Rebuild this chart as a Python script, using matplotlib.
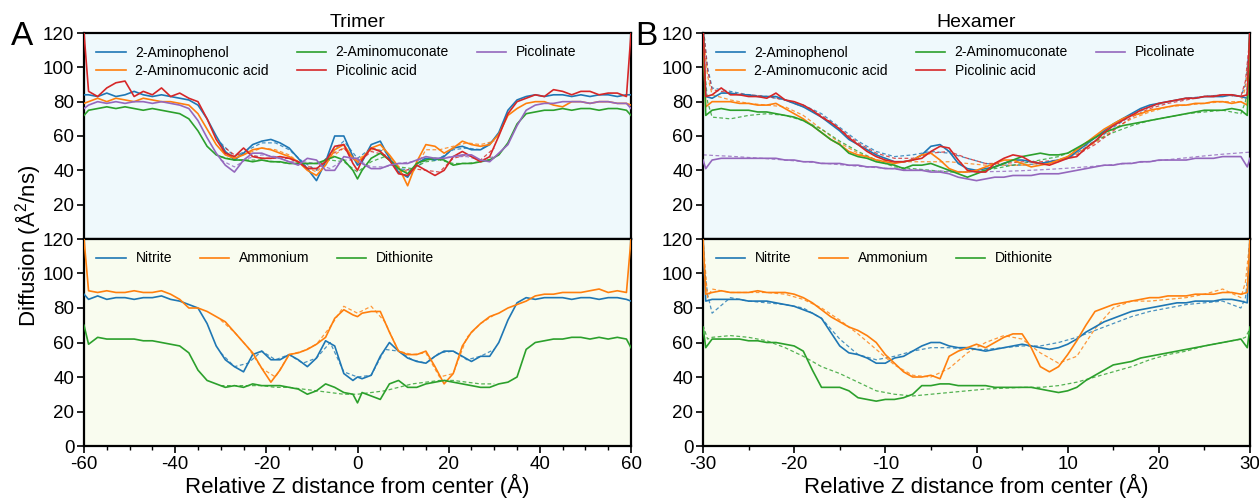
import matplotlib
matplotlib.use('Agg')
import matplotlib.pyplot as plt
from matplotlib.ticker import MultipleLocator, FixedLocator

plt.rcParams['font.family'] = ['Liberation Sans', 'DejaVu Sans']
plt.rcParams['mathtext.fontset'] = 'custom'
plt.rcParams['mathtext.rm'] = 'Liberation Sans'
plt.rcParams['mathtext.it'] = 'Liberation Sans:italic'
plt.rcParams['mathtext.default'] = 'regular'
plt.rcParams['axes.unicode_minus'] = False

# ---------------- data ----------------
TOP_LABELS = ['2-Aminophenol', '2-Aminomuconic acid', '2-Aminomuconate',
              'Picolinic acid', 'Picolinate']
BOT_LABELS = ['Nitrite', 'Ammonium', 'Dithionite']
COLORS = ['#1f77b4', '#ff7f0e', '#2ca02c', '#d62728', '#9467bd']

# Trimer x grid (A)
XL = [-60] + list(range(-59, 0, 2)) + [0] + list(range(1, 60, 2)) + [60]
# Hexamer x grid (A)
XR = [-30, -29.7] + list(range(-29, 30)) + [29.7, 30]
# fitted (dashed) curves x grids
XF_L = list(range(-30, 31, 3))
XF_R = [-30, -29.5] + list(range(-29, 30, 2)) + [29.5, 30]

# ---- Trimer, top (organics)
TL_BLUE = [84,
           84, 83, 85, 83, 84, 86, 84, 83, 84, 83, 82, 81, 78, 70, 60, 51, 46, 50, 55, 57,
           58, 56, 53, 47, 41, 34, 45, 60, 60, 48,
           43,
           45, 55, 57, 47, 39, 36, 44, 47, 46, 48, 53, 54, 52, 52, 55, 62, 75, 81, 83, 84,
           83, 84, 84, 83, 84, 83, 84, 84, 83, 84,
           84]
TL_ORANGE = [79,
             80, 82, 80, 82, 81, 80, 82, 81, 80, 80, 79, 78, 73, 64, 55, 49, 47, 49, 52, 53,
             52, 50, 48, 45, 40, 37, 43, 52, 55, 47,
             45,
             47, 53, 55, 49, 42, 31, 45, 55, 54, 50, 53, 57, 55, 54, 55, 61, 72, 76, 79, 80,
             80, 78, 77, 80, 80, 79, 80, 80, 79, 79,
             78]
TL_GREEN = [72,
            75, 76, 77, 76, 77, 76, 75, 76, 75, 74, 73, 70, 63, 54, 49, 47, 46, 46, 45, 46,
            45, 45, 44, 44, 44, 44, 46, 48, 46, 40,
            35,
            40, 47, 50, 46, 41, 38, 44, 46, 47, 46, 43, 44, 44, 45, 46, 49, 56, 67, 73, 74,
            75, 75, 76, 75, 76, 76, 75, 76, 76, 75,
            72]
TL_RED = [120,
          86, 83, 88, 91, 92, 83, 86, 84, 88, 83, 85, 82, 80, 70, 58, 50, 48, 53, 48, 47,
          47, 48, 47, 45, 41, 41, 45, 54, 55, 44,
          40,
          46, 53, 51, 46, 38, 37, 43, 40, 37, 40, 48, 51, 48, 45, 48, 60, 73, 80, 82, 84,
          83, 87, 86, 84, 86, 86, 84, 85, 85, 83,
          120]
TL_PURPLE = [76,
             78, 80, 79, 80, 79, 80, 80, 79, 80, 79, 78, 76, 69, 59, 50, 43, 39, 46, 50, 50,
             48, 47, 45, 43, 47, 46, 40, 40, 48, 47,
             47,
             44, 41, 41, 43, 44, 44, 46, 48, 47, 47, 48, 49, 49, 46, 45, 50, 55, 66, 75, 78,
             79, 79, 80, 80, 80, 79, 80, 80, 79, 79,
             76]
TLF_BLUE = [56, 48, 52, 56, 56, 52, 45, 40, 50, 57, 47, 53, 51, 41, 40, 46, 47, 52, 53, 52, 58]
TLF_ORANGE = [52, 48, 50, 53, 52, 49, 43, 39, 47, 53, 46, 52, 52, 41, 38, 52, 52, 54, 56, 55, 57]
TLF_GREEN = [48, 46, 46, 46, 45, 44, 44, 44, 46, 45, 39, 45, 48, 42, 41, 45, 46, 44, 44, 45, 47]
TLF_RED = [55, 49, 50, 47, 47, 47, 43, 41, 49, 53, 44, 51, 49, 39, 41, 40, 39, 47, 49, 46, 53]
TLF_PURPLE = [46, 42, 47, 49, 48, 45, 45, 44, 41, 46, 46, 42, 42, 44, 45, 47, 47, 48, 48, 46, 48]

# ---- Trimer, bottom (ions)
BL_BLUE = [88,
           85, 87, 85, 86, 86, 85, 86, 86, 87, 85, 84, 82, 80, 71, 58, 50, 46, 43, 53, 55,
           50, 50, 53, 50, 46, 51, 61, 58, 42, 38,
           40,
           39, 41, 52, 60, 55, 51, 49, 48, 52, 55, 55, 52, 49, 52, 52, 60, 73, 83, 86, 85,
           86, 86, 86, 85, 86, 86, 85, 86, 86, 85,
           84]
BL_ORANGE = [120,
             90, 89, 90, 89, 89, 90, 89, 89, 90, 88, 85, 80, 80, 78, 75, 72, 66, 60, 54, 45,
             37, 44, 53, 54, 56, 59, 63, 74, 79, 76,
             75,
             77, 78, 78, 66, 55, 53, 53, 55, 46, 36, 42, 58, 66, 71, 75, 77, 80, 82, 84, 87,
             88, 88, 89, 89, 89, 90, 91, 89, 90, 89,
             120]
BL_GREEN = [70,
            59, 63, 62, 62, 62, 62, 61, 61, 60, 59, 58, 54, 44, 38, 36, 34, 35, 34, 36, 35,
            35, 35, 34, 33, 30, 32, 36, 34, 31, 30,
            25,
            31, 29, 27, 36, 38, 34, 34, 36, 37, 38, 37, 36, 35, 34, 34, 36, 37, 40, 56, 60,
            61, 62, 62, 63, 63, 62, 63, 62, 63, 62,
            57]
BLF_BLUE = [54, 46, 48, 55, 50, 53, 48, 51, 60, 43, 40, 41, 56, 55, 50, 48, 54, 55, 50, 52, 56]
BLF_ORANGE = [73, 66, 57, 45, 40, 53, 55, 59, 69, 81, 77, 81, 72, 55, 53, 54, 40, 42, 63, 71, 76]
BLF_GREEN = [35, 35, 35, 35, 34, 34, 33, 32, 31, 30, 30, 31, 32, 34, 36, 37, 38, 38, 37, 36, 36]

# ---- Hexamer, top (organics)
TR_BLUE = [125, 83,
           82, 85, 85, 84, 84, 83, 83, 83, 81, 79,
           77, 74, 71, 67, 63, 58, 55, 52, 49, 47,
           45, 45, 46, 49, 54, 55, 51, 44, 41, 40,
           41, 42, 44, 46, 46, 45, 44, 45, 46, 47,
           51, 55, 59, 63, 67, 70, 73, 76, 78, 79,
           80, 81, 82, 82, 83, 83, 83, 84, 83,
           82, 125]
TR_ORANGE = [120, 77,
             80, 80, 80, 79, 79, 78, 78, 79, 76, 73,
             70, 66, 62, 58, 55, 51, 49, 48, 46, 45,
             44, 45, 46, 49, 50, 46, 41, 39, 39, 40,
             42, 44, 46, 46, 44, 42, 43, 44, 46, 48,
             52, 56, 60, 64, 67, 70, 72, 73, 75, 76,
             77, 78, 78, 79, 79, 80, 80, 79, 80,
             78, 120]
TR_GREEN = [125, 72,
            75, 76, 75, 75, 75, 74, 74, 73, 72, 71,
            69, 66, 62, 58, 55, 50, 48, 47, 45, 44,
            43, 41, 43, 43, 44, 42, 40, 38, 36, 38,
            40, 42, 44, 46, 48, 49, 50, 49, 49, 50,
            53, 56, 59, 62, 64, 66, 67, 68, 69, 70,
            71, 72, 73, 74, 75, 75, 75, 76, 75,
            72, 125]
TR_RED = [125, 83,
          84, 88, 84, 84, 83, 83, 82, 85, 81, 80,
          78, 75, 71, 68, 64, 59, 55, 51, 48, 46,
          45, 45, 46, 47, 51, 54, 53, 46, 40, 39,
          39, 44, 47, 49, 48, 45, 44, 43, 45, 47,
          48, 53, 57, 62, 66, 69, 72, 75, 77, 79,
          80, 81, 82, 82, 83, 83, 84, 84, 83,
          84, 125]
TR_PURPLE = [46, 41,
             46, 47, 47, 47, 47, 47, 47, 47, 46, 46,
             45, 45, 44, 44, 44, 43, 43, 42, 42, 41,
             41, 40, 40, 40, 39, 39, 38, 36, 35, 34,
             35, 36, 36, 37, 37, 37, 38, 38, 38, 39,
             40, 41, 42, 43, 43, 44, 44, 45, 45, 46,
             46, 46, 46, 47, 47, 47, 48, 48, 48,
             42, 47]
TRF_BLUE = [125, 100,
            88, 86, 84, 83, 81, 78, 73, 65, 57, 51,
            48, 49, 51, 50, 47, 44, 43, 43, 44, 46,
            50, 57, 65, 72, 77, 80, 82, 83, 84, 83,
            90, 115]
TRF_ORANGE = [120, 95,
              84, 81, 79, 78, 77, 72, 64, 56, 50, 46,
              45, 45, 45, 45, 44, 43, 43, 43, 44, 45,
              50, 56, 64, 70, 74, 77, 78, 79, 80, 80,
              88, 110]
TRF_GREEN = [110, 80,
             71, 70, 72, 73, 72, 69, 64, 57, 51, 46,
             42, 41, 40, 39, 39, 40, 42, 44, 46, 48,
             52, 57, 62, 66, 69, 71, 73, 74, 75, 73,
             80, 100]
TRF_RED = [125, 98,
           87, 85, 84, 83, 81, 77, 72, 64, 56, 50,
           47, 47, 50, 51, 47, 44, 44, 45, 45, 46,
           49, 55, 63, 71, 76, 79, 81, 83, 84, 83,
           92, 118]
TRF_PURPLE = [49.0, 48.9,
              48.7, 48.2, 47.5, 46.8, 46.0, 45.1, 44.2, 43.3, 42.4, 41.6,
              40.9, 40.3, 39.8, 39.4, 39.2, 39.2, 39.4, 39.8, 40.3, 40.9,
              41.6, 42.4, 43.3, 44.2, 45.2, 46.2, 47.3, 48.4, 49.4, 50.2,
              50.4, 50.6]

# ---- Hexamer, bottom (ions)
BR_BLUE = [120, 84,
           85, 85, 85, 85, 84, 84, 84, 83, 82, 81,
           79, 77, 74, 66, 58, 54, 53, 51, 48, 48,
           51, 52, 55, 58, 60, 60, 58, 57, 57, 56,
           55, 56, 57, 58, 59, 58, 57, 56, 57, 59,
           62, 66, 69, 72, 74, 76, 78, 79, 80, 81,
           82, 83, 83, 84, 84, 84, 85, 85, 84,
           83, 120]
BR_ORANGE = [120, 88,
             89, 90, 89, 89, 89, 90, 89, 89, 89, 88,
             86, 83, 79, 75, 72, 69, 67, 64, 60, 53,
             48, 43, 40, 40, 41, 39, 52, 55, 57, 59,
             57, 60, 63, 65, 65, 57, 46, 43, 46, 53,
             61, 70, 78, 80, 82, 83, 84, 85, 86, 86,
             87, 87, 87, 88, 88, 88, 89, 89, 88,
             89, 120]
BR_GREEN = [69, 57,
            62, 62, 62, 62, 61, 61, 60, 60, 59, 58,
            55, 44, 34, 34, 34, 32, 28, 27, 26, 27,
            27, 28, 30, 35, 35, 36, 36, 35, 35, 35,
            35, 34, 34, 34, 34, 34, 33, 32, 31, 32,
            34, 38, 41, 44, 47, 48, 49, 51, 52, 53,
            54, 55, 56, 57, 58, 59, 60, 61, 62,
            57, 69]
BRF_BLUE = [110, 88,
            77, 86, 84, 83, 82, 80, 74, 62, 53, 50,
            52, 55, 57, 57, 56, 56, 57, 58, 58, 60,
            63, 67, 71, 75, 78, 80, 82, 83, 84, 80,
            86, 110]
BRF_ORANGE = [120, 86,
              91, 89, 89, 89, 88, 85, 80, 73, 65, 56,
              47, 41, 40, 45, 54, 60, 64, 62, 54, 48,
              52, 68, 80, 84, 84, 85, 86, 88, 91, 86,
              95, 120]
BRF_GREEN = [70, 62,
             63, 64, 63, 61, 57, 52, 46, 42, 37, 32,
             30, 29, 30, 31, 32, 33, 33.5, 34, 34, 35,
             37, 40, 43, 46, 50, 53, 55, 58, 60, 62,
             63, 68]

# ---------------- figure ----------------
W, H = 1259, 498
fig = plt.figure(figsize=(W / 100, H / 100), dpi=100)


def rect(x0, x1, y0, y1):
    return [x0 / W, 1 - y1 / H, (x1 - x0) / W, (y1 - y0) / H]


ax_tl = fig.add_axes(rect(84, 631, 33, 239))
ax_bl = fig.add_axes(rect(84, 631, 239, 446))
ax_tr = fig.add_axes(rect(703, 1250, 33, 239))
ax_br = fig.add_axes(rect(703, 1250, 239, 446))

TOP_BG = '#eff9fc'
BOT_BG = '#f9fcef'


def style(ax, top, xlim, major, bg):
    ax.set_facecolor(bg)
    ax.set_xlim(*xlim)
    ax.set_ylim(0, 120)
    for s in ax.spines.values():
        s.set_linewidth(1.6)
        s.set_color('black')
    if top:
        ax.yaxis.set_major_locator(FixedLocator([20, 40, 60, 80, 100, 120]))
        ax.tick_params(axis='x', which='both', bottom=False, labelbottom=False)
    else:
        ax.yaxis.set_major_locator(FixedLocator([0, 20, 40, 60, 80, 100, 120]))
        ax.xaxis.set_major_locator(MultipleLocator(major))
        ax.xaxis.set_minor_locator(MultipleLocator(5))
        ax.tick_params(axis='x', which='major', length=5, width=1.2, labelsize=13.5, pad=2)
        ax.tick_params(axis='x', which='minor', length=3, width=1.0)
        ax.set_xlabel('Relative Z distance from center (Å)', fontsize=16, labelpad=1)
    ax.tick_params(axis='y', which='major', length=5, width=1.2, labelsize=13.5, pad=2)


def draw(ax, x, series, xf, fits, colors, labels, ncol_leg):
    for y, c, lab in zip(series, colors, labels):
        ax.plot(x, y, color=c, lw=1.2, label=lab, zorder=3)
    for yf, c in zip(fits, colors):
        if yf is not None:
            ax.plot(xf, yf, color=c, lw=0.9, ls=(0, (3, 2)), alpha=0.8, zorder=2)
    ax.legend(loc='upper left', ncol=ncol_leg, frameon=False, fontsize=10,
              handlelength=2.1, handletextpad=0.7, columnspacing=2.0,
              labelspacing=0.35, borderaxespad=0.5)


draw(ax_tl, XL, [TL_BLUE, TL_ORANGE, TL_GREEN, TL_RED, TL_PURPLE],
     XF_L, [TLF_BLUE, TLF_ORANGE, TLF_GREEN, TLF_RED, TLF_PURPLE],
     COLORS, TOP_LABELS, 3)
draw(ax_bl, XL, [BL_BLUE, BL_ORANGE, BL_GREEN],
     XF_L, [BLF_BLUE, BLF_ORANGE, BLF_GREEN],
     COLORS[:3], BOT_LABELS, 3)
draw(ax_tr, XR, [TR_BLUE, TR_ORANGE, TR_GREEN, TR_RED, TR_PURPLE],
     XF_R, [TRF_BLUE, TRF_ORANGE, TRF_GREEN, TRF_RED, TRF_PURPLE],
     COLORS, TOP_LABELS, 3)
draw(ax_br, XR, [BR_BLUE, BR_ORANGE, BR_GREEN],
     XF_R, [BRF_BLUE, BRF_ORANGE, BRF_GREEN],
     COLORS[:3], BOT_LABELS, 3)

style(ax_tl, True, (-60, 60), 20, TOP_BG)
style(ax_bl, False, (-60, 60), 20, BOT_BG)
style(ax_tr, True, (-30, 30), 10, TOP_BG)
style(ax_br, False, (-30, 30), 10, BOT_BG)

ax_tl.set_title('Trimer', fontsize=14, pad=4)
ax_tr.set_title('Hexamer', fontsize=14, pad=4)

fig.text(11 / W, 1 - 45 / H, 'A', fontsize=24, va='baseline', ha='left')
fig.text(635 / W, 1 - 45 / H, 'B', fontsize=24, va='baseline', ha='left')
fig.text(28 / W, 1 - 246 / H, 'Diffusion (Å$^2$/ns)', rotation=90, fontsize=16,
         ha='center', va='center')

fig.savefig('out.png', dpi=100)
